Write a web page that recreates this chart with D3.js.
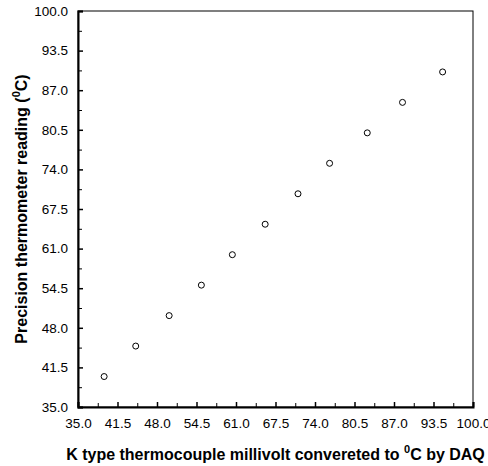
<!DOCTYPE html>
<html>
<head>
<meta charset="utf-8">
<script src="https://cdn.jsdelivr.net/npm/d3@7"></script>
<style>
  body { margin: 0; background: #fff; }
  svg { display: block; font-family: "Liberation Sans", Arial, sans-serif; }
  .tick text { font-size: 13.5px; fill: #000; }
  .title { font-size: 16px; font-weight: bold; fill: #000; }
</style>
</head>
<body>
<svg id="chart" width="488" height="466"></svg>
<script>
// DAQ reading (x) vs precision thermometer (y)
const daqTemp = [39.3, 44.5, 50.0, 55.3, 60.4, 65.8, 71.2, 76.4, 82.6, 88.4, 95.0];
const refTemp = [40, 45, 50, 55, 60, 65, 70, 75, 80, 85, 90];
const majorTicks = [35.0, 41.5, 48.0, 54.5, 61.0, 67.5, 74.0, 80.5, 87.0, 93.5, 100.0];

const margin = { top: 11, right: 15, bottom: 59, left: 78 };
const width = 488 - margin.left - margin.right;
const height = 466 - margin.top - margin.bottom;

const svg = d3.select('#chart');
const g = svg.append('g').attr('transform', `translate(${margin.left},${margin.top})`);

const x = d3.scaleLinear().domain([35, 100]).range([0, width]);
const y = d3.scaleLinear().domain([35, 100]).range([height, 0]);

const minorTicks = majorTicks.slice(0, -1).map((t) => t + 3.25);

// Frame
g.append('rect')
  .attr('width', width)
  .attr('height', height)
  .attr('fill', 'none')
  .attr('stroke', '#000')
  .attr('stroke-width', 1);

// Axes with inward ticks
const xAxis = g.append('g')
  .attr('transform', `translate(0,${height})`)
  .call(d3.axisBottom(x).tickValues(majorTicks).tickFormat(d3.format('.1f')).tickSize(-5).tickPadding(11));
const yAxis = g.append('g')
  .call(d3.axisLeft(y).tickValues(majorTicks).tickFormat(d3.format('.1f')).tickSize(-5).tickPadding(10));

[xAxis, yAxis].forEach((ax) => {
  ax.select('.domain').attr('stroke', '#000').attr('stroke-width', 2);
  ax.selectAll('.tick line').attr('stroke', '#000').attr('stroke-width', 1.5);
});

g.append('g')
  .attr('transform', `translate(0,${height})`)
  .call(d3.axisBottom(x).tickValues(minorTicks).tickFormat('').tickSize(-4))
  .call((a) => a.select('.domain').remove())
  .selectAll('line').attr('stroke', '#000');
g.append('g')
  .call(d3.axisLeft(y).tickValues(minorTicks).tickFormat('').tickSize(-4))
  .call((a) => a.select('.domain').remove())
  .selectAll('line').attr('stroke', '#000');

// Points
g.append('g')
  .selectAll('circle')
  .data(daqTemp.map((d, i) => [d, refTemp[i]]))
  .join('circle')
  .attr('cx', (d) => x(d[0]))
  .attr('cy', (d) => y(d[1]))
  .attr('r', 3)
  .attr('fill', 'none')
  .attr('stroke', '#000')
  .attr('stroke-width', 1);

// Axis titles
const xt = svg.append('text')
  .attr('class', 'title')
  .attr('x', margin.left + width / 2)
  .attr('y', 460)
  .attr('text-anchor', 'middle');
xt.append('tspan').text('K type thermocouple millivolt convereted to ');
xt.append('tspan').attr('font-size', '11px').attr('dy', -7).text('0');
xt.append('tspan').attr('dy', 7).text('C by DAQ');

const yt = svg.append('text')
  .attr('class', 'title')
  .attr('transform', `translate(27,${margin.top + height / 2}) rotate(-90)`)
  .attr('text-anchor', 'middle');
yt.append('tspan').text('Precision thermometer reading (');
yt.append('tspan').attr('font-size', '11px').attr('dy', -7).text('0');
yt.append('tspan').attr('dy', 7).text('C)');
</script>
</body>
</html>
